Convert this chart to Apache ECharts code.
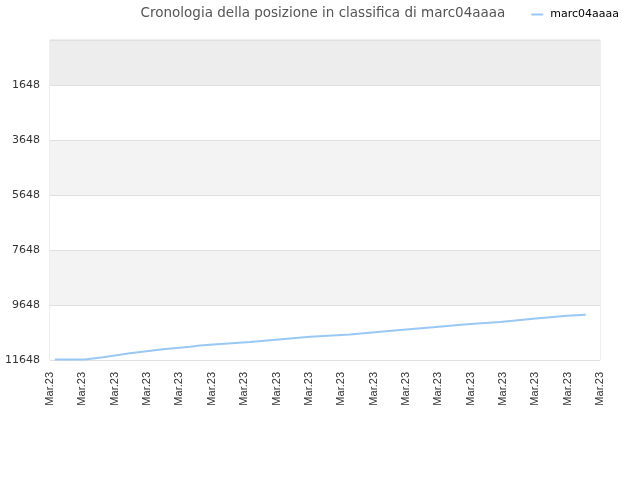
<!DOCTYPE html>
<html><head><meta charset="utf-8">
<script src="https://cdn.jsdelivr.net/npm/echarts@6/dist/echarts.min.js"></script>
<style>html,body{margin:0;padding:0;background:#fff}#c{width:640px;height:480px}</style>
</head><body><div id="c"></div>
<script>
const title = 'Cronologia della posizione in classifica di marc04aaaa';
const seriesName = 'marc04aaaa';
const xLabel = 'Mar.23';
const xPos = [0.15, 1.08, 1.64, 2.47, 3.49, 4.33, 4.64, 5.16, 6.18, 8.04, 9.27, 10.82, 11.84, 12.89, 13.91, 14.93, 15.98, 16.56];
const ranks = [11630, 11630, 11550, 11404, 11259, 11164, 11124, 11077, 10993, 10801, 10721, 10557, 10459, 10350, 10266, 10146, 10037, 10001];
const rankBottom = 11648;
const rankTop = 12;
const rankStep = 2000;

const chart = echarts.init(document.getElementById('c'));
chart.setOption({
  animation: false,
  title: { text: title, left: 318, top: 1, textAlign: 'center',
    textStyle: { fontFamily: 'DejaVu Sans', fontSize: 13.5, fontWeight: 'normal', color: '#555' } },
  legend: { right: 16, top: 4, itemWidth: 12, itemHeight: 2, icon: 'rect',
    textStyle: { fontFamily: 'DejaVu Sans', fontSize: 11, color: '#000', padding: [0, 0, 0, 2] },
    data: [seriesName] },
  grid: { left: 50, right: 40, top: 40, bottom: 120, show: true, borderColor: '#ddd', borderWidth: 1, containLabel: false },
  xAxis: { type: 'value', min: 0, max: 17, interval: 1,
    axisLine: { show: false }, axisTick: { show: false }, splitLine: { show: false },
    axisLabel: { rotate: 90, formatter: () => xLabel, fontFamily: 'Liberation Sans', fontSize: 11, color: '#333', margin: 12 } },
  yAxis: { type: 'value', min: 0, max: rankBottom - rankTop, interval: rankStep,
    axisLine: { show: false }, axisTick: { show: false },
    splitLine: { show: true, lineStyle: { color: '#e0e0e0' } },
    splitArea: { show: true, areaStyle: { color: ['#ffffff', '#f3f3f3', '#ffffff', '#f3f3f3', '#ffffff', '#ededed'] } },
    axisLabel: { showMaxLabel: false, formatter: v => String(rankBottom - v), fontFamily: 'DejaVu Sans', fontSize: 11, color: '#333', margin: 10 } },
  series: [{
    name: seriesName, type: 'line', showSymbol: false, symbol: 'none',
    lineStyle: { color: '#99c8f5', width: 2 }, itemStyle: { color: '#99c8f5' },
    data: xPos.map((x, i) => [x, rankBottom - ranks[i]])
  }]
});
</script></body></html>
